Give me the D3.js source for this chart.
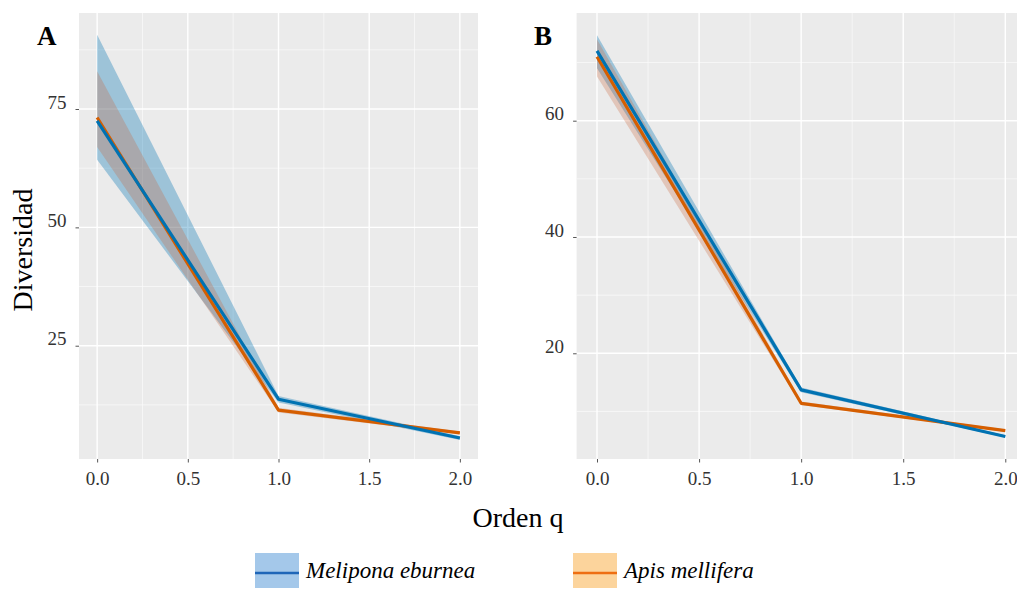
<!DOCTYPE html>
<html>
<head>
<meta charset="utf-8">
<script src="https://cdn.jsdelivr.net/npm/d3@7"></script>
<style>
  html, body { margin: 0; padding: 0; background: #ffffff; }
  svg { display: block; }
  text { font-family: "Liberation Serif", "Times New Roman", serif; }
</style>
</head>
<body>
<svg id="chart" width="1017" height="589"></svg>
<script>
// ---------- data ----------
const qValues = [0, 1, 2];
const seriesNames = ["Melipona eburnea", "Apis mellifera"];
const panelLabels = ["A", "B"];

// Panel A
const aMeliponaEst = [72.5, 13.7, 5.5];
const aMeliponaLo  = [64.3, 13.0, 5.1];
const aMeliponaHi  = [90.7, 14.4, 5.9];
const aApisEst     = [73.2, 11.4, 6.6];
const aApisLo      = [67.0, 10.9, 6.3];
const aApisHi      = [83.0, 11.9, 6.9];

// Panel B
const bMeliponaEst = [72.0, 13.7, 5.7];
const bMeliponaLo  = [69.0, 13.3, 5.5];
const bMeliponaHi  = [74.7, 14.1, 5.9];
const bApisEst     = [71.0, 11.4, 6.7];
const bApisLo      = [67.6, 11.1, 6.5];
const bApisHi      = [74.0, 11.7, 6.9];

// tick labels
const xTicks = [0, 0.5, 1.0, 1.5, 2.0];
const xMinor = [0.25, 0.75, 1.25, 1.75];
const aYTicks = [25, 50, 75];
const aYMinor = [12.5, 37.5, 62.5, 87.5];
const bYTicks = [20, 40, 60];
const bYMinor = [10, 30, 50, 70];

const xLabel = "Orden q";
const yLabel = "Diversidad";

// ---------- styles ----------
const lineColors = ["#0072B2", "#D55E00"];
const ribbonFill = ["#0072B2", "#C8643A"];
const ribbonOpacity = [0.33, 0.28];
const legendKeyFill = ["#a4c8ea", "#fcd49c"];
const legendLineColors = ["#1f66b8", "#ee6e12"];

const svg = d3.select("#chart");

const panels = [
  {
    label: panelLabels[0],
    xRange: [79, 478],
    yDomain: [1.07, 95.28],
    yTicks: aYTicks, yMinor: aYMinor,
    series: [
      {est: aMeliponaEst, lo: aMeliponaLo, hi: aMeliponaHi},
      {est: aApisEst, lo: aApisLo, hi: aApisHi}
    ],
    labelX: 37
  },
  {
    label: panelLabels[1],
    xRange: [576.6, 1025.7],
    yDomain: [1.82, 78.52],
    yTicks: bYTicks, yMinor: bYMinor,
    series: [
      {est: bMeliponaEst, lo: bMeliponaLo, hi: bMeliponaHi},
      {est: bApisEst, lo: bApisLo, hi: bApisHi}
    ],
    labelX: 534
  }
];

const panelTop = 13, panelBottom = 459;

panels.forEach(p => {
  const x = d3.scaleLinear().domain([-0.1, 2.1]).range(p.xRange);
  const y = d3.scaleLinear().domain(p.yDomain).range([panelBottom, panelTop]);
  const g = svg.append("g");

  // panel background
  g.append("rect")
    .attr("x", p.xRange[0]).attr("y", panelTop)
    .attr("width", p.xRange[1] - p.xRange[0]).attr("height", panelBottom - panelTop)
    .attr("fill", "#ebebeb");

  // minor grid
  g.selectAll(".ymin").data(p.yMinor).enter().append("line")
    .attr("x1", p.xRange[0]).attr("x2", p.xRange[1])
    .attr("y1", d => y(d)).attr("y2", d => y(d))
    .attr("stroke", "#fafafa").attr("stroke-width", 0.7);
  g.selectAll(".xmin").data(xMinor).enter().append("line")
    .attr("x1", d => x(d)).attr("x2", d => x(d))
    .attr("y1", panelTop).attr("y2", panelBottom)
    .attr("stroke", "#fafafa").attr("stroke-width", 0.7);
  // major grid
  g.selectAll(".ymaj").data(p.yTicks).enter().append("line")
    .attr("x1", p.xRange[0]).attr("x2", p.xRange[1])
    .attr("y1", d => y(d)).attr("y2", d => y(d))
    .attr("stroke", "#ffffff").attr("stroke-width", 1.4);
  g.selectAll(".xmaj").data(xTicks).enter().append("line")
    .attr("x1", d => x(d)).attr("x2", d => x(d))
    .attr("y1", panelTop).attr("y2", panelBottom)
    .attr("stroke", "#ffffff").attr("stroke-width", 1.4);

  // ribbons
  p.series.forEach((s, i) => {
    const pts = qValues.map((q, k) => ({q, lo: s.lo[k], hi: s.hi[k]}));
    const area = d3.area().x(d => x(d.q)).y0(d => y(d.lo)).y1(d => y(d.hi));
    g.append("path").datum(pts)
      .attr("d", area)
      .attr("fill", ribbonFill[i])
      .attr("fill-opacity", ribbonOpacity[i]);
  });

  // lines (orange first, blue on top)
  [1, 0].forEach(i => {
    const s = p.series[i];
    const pts = qValues.map((q, k) => ({q, v: s.est[k]}));
    const line = d3.line().x(d => x(d.q)).y(d => y(d.v));
    g.append("path").datum(pts)
      .attr("d", line)
      .attr("fill", "none")
      .attr("stroke", lineColors[i])
      .attr("stroke-width", 3.2)
      .attr("stroke-linejoin", "round");
  });

  // x axis
  const xAxis = d3.axisBottom(x).tickValues(xTicks).tickFormat(d3.format(".1f"))
    .tickSize(3.5).tickPadding(9);
  const xg = g.append("g").attr("transform", `translate(0,${panelBottom})`).call(xAxis);
  xg.select(".domain").remove();
  xg.selectAll(".tick line").attr("stroke", "#555").attr("stroke-width", 1);
  xg.selectAll(".tick text").attr("fill", "#333").attr("font-size", 19)
    .attr("font-family", "Liberation Serif, serif");

  // y axis
  const yAxis = d3.axisLeft(y).tickValues(p.yTicks).tickFormat(d3.format("d"))
    .tickSize(3.5).tickPadding(9);
  const yg = g.append("g").attr("transform", `translate(${p.xRange[0]},0)`).call(yAxis);
  yg.select(".domain").remove();
  yg.selectAll(".tick line").attr("stroke", "#555").attr("stroke-width", 1);
  yg.selectAll(".tick text").attr("fill", "#333").attr("font-size", 19)
    .attr("font-family", "Liberation Serif, serif")
    .attr("dy", "-0.05em");

  // panel label
  svg.append("text")
    .attr("x", p.labelX).attr("y", 45)
    .attr("font-size", 27).attr("font-weight", "bold")
    .attr("fill", "#000")
    .text(p.label);
});

// axis titles
svg.append("text")
  .attr("transform", "translate(32,250) rotate(-90)")
  .attr("text-anchor", "middle")
  .attr("font-size", 28).attr("fill", "#000")
  .text(yLabel);

svg.append("text")
  .attr("x", 518).attr("y", 527)
  .attr("text-anchor", "middle")
  .attr("font-size", 28).attr("fill", "#000")
  .text(xLabel);

// legend
const legendX = [255, 573];
seriesNames.forEach((name, i) => {
  const lg = svg.append("g").attr("transform", `translate(${legendX[i]},553)`);
  lg.append("rect").attr("x", 0).attr("y", 0).attr("width", 44).attr("height", 35)
    .attr("fill", legendKeyFill[i]);
  lg.append("line").attr("x1", 0).attr("x2", 44).attr("y1", 20).attr("y2", 20)
    .attr("stroke", legendLineColors[i]).attr("stroke-width", 2.5);
  lg.append("text").attr("x", 51).attr("y", 25)
    .attr("font-size", 23).attr("font-style", "italic").attr("fill", "#000")
    .text(name);
});
</script>
</body>
</html>
